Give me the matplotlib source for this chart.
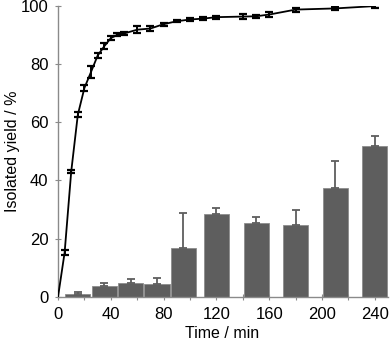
import matplotlib
matplotlib.use("Agg")
import matplotlib.pyplot as plt
import numpy as np

plt.rcParams['font.family'] = ['Liberation Sans', 'DejaVu Sans']

# Yield curve (time / min, isolated yield / %, error)
curve_time = [0, 5, 10, 15, 20, 25, 30, 35, 40, 45, 50, 60, 70, 80, 90,
              100, 110, 120, 140, 150, 160, 180, 210, 240]
curve_yield = [0, 15.2, 43.0, 62.5, 71.7, 77.2, 82.8, 86.0, 88.8, 90.0, 90.4,
               91.7, 92.1, 93.6, 94.6, 95.2, 95.5, 96.0, 96.2, 96.3, 96.9,
               98.6, 99.0, 99.8]
curve_err = [0, 0.9, 0.5, 0.8, 1.0, 2.1, 0.8, 1.0, 0.8, 0.6, 0.5,
             1.1, 1.0, 0.5, 0.4, 0.5, 0.4, 0.5, 1.0, 0.6, 1.0, 0.7, 0.6, 0.5]

# Bars
bar_time = [15, 35, 55, 75, 95, 120, 150, 180, 210, 240]
bar_yield = [0.9, 3.7, 4.9, 4.5, 16.7, 28.3, 25.3, 24.7, 37.3, 51.9]
bar_err = [0.9, 1.1, 1.4, 2.0, 12.1, 2.2, 2.2, 5.2, 9.2, 3.2]

fig = plt.figure(figsize=(3.92, 3.44), dpi=100)
ax = fig.add_axes([0.148, 0.137, 0.842, 0.847])

axis_grey = '#8a8a8a'
bar_grey = '#5e5e5e'

ax.bar(bar_time, bar_yield, width=19, color=bar_grey, edgecolor='#8c8c8c',
       linewidth=0.6, zorder=2)
ax.errorbar(bar_time, bar_yield, yerr=[np.zeros(len(bar_err)), bar_err],
            fmt='none', ecolor=bar_grey, elinewidth=1.3, capsize=3.2,
            capthick=1.3, zorder=2)

ax.plot(curve_time, curve_yield, color='black', linewidth=1.3, zorder=3)
ax.errorbar(curve_time[1:], curve_yield[1:], yerr=curve_err[1:], fmt='none',
            ecolor='black', elinewidth=1.4, capsize=2.9, capthick=1.6, zorder=4)

ax.set_xlim(0, 250)
ax.set_ylim(0, 100)
ax.set_xticks(range(0, 241, 40))
ax.set_xticks(range(20, 241, 40), minor=True)
ax.set_yticks(range(0, 101, 20))

for side in ['top', 'right']:
    ax.spines[side].set_visible(False)
for side in ['left', 'bottom']:
    ax.spines[side].set_color(axis_grey)
    ax.spines[side].set_linewidth(1.0)

ax.tick_params(axis='both', which='both', direction='inout', length=4,
               width=0.8, color=axis_grey, labelsize=12, labelcolor='black')
ax.tick_params(axis='x', pad=5)
ax.tick_params(axis='y', pad=5)

ax.set_xlabel('Time / min', fontsize=11.5, va='center')
ax.set_ylabel('Isolated yield / %', fontsize=11.5, va='center')
ax.xaxis.set_label_coords(0.497, -0.124)
ax.yaxis.set_label_coords(-0.139, 0.5)

fig.savefig('out.png', dpi=100)
